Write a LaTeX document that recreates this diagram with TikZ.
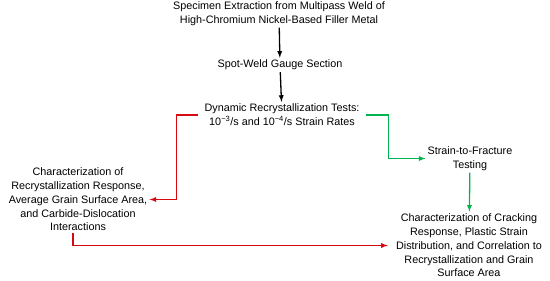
\documentclass[tikz,border=0pt]{standalone}
\usepackage{fontspec}
\setmainfont{Liberation Sans}
\usepackage{xcolor}
\usetikzlibrary{arrows, positioning}

\definecolor{redline}{RGB}{215,10,20}
\definecolor{greenline}{RGB}{0,180,80}

\begin{document}
\begin{tikzpicture}[
    x=1pt, y=-1pt,
    node distance=20pt,
    step_text/.style={align=center, inner sep=2pt, font=\fontsize{10.8}{13.8}\selectfont},
    arrow/.style={line width=1.3pt,->,>=latex},
    redarrow/.style={arrow, draw=redline},
    greenarrow/.style={arrow, draw=greenline}
]
\useasboundingbox (0,0) rectangle (550,281);

% Nodes
\node [step_text] (specimen) at (279,13.5) {Specimen Extraction from Multipass Weld of\\High-Chromium Nickel-Based Filler Metal};
\node [step_text] (gauge) at (280,65) {Spot-Weld Gauge Section};
\node [step_text] (recryst) at (282,115) {Dynamic Recrystallization Tests:\\10\textsuperscript{−3}/s and 10\textsuperscript{−4}/s Strain Rates};
\node [step_text] (charrecryst) at (78,199.5) {Characterization of\\Recrystallization Response,\\Average Grain Surface Area,\\and Carbide-Dislocation\\Interactions};
\node [step_text] (fracture) at (470,158.5) {Strain-to-Fracture\\Testing};
\node [step_text] (charcrack) at (469,245.5) {Characterization of Cracking\\Response, Plastic Strain\\Distribution, and Correlation to\\Recrystallization and Grain\\Surface Area};

% Arrows
\draw [arrow] (specimen) -- (gauge);
\draw [arrow] (gauge) -- (recryst);
\draw [redarrow] ([xshift=-4pt]recryst.west) -- ++(-22,0) |- (charrecryst.east);
\draw [greenarrow] ([xshift=4pt]recryst.east) -- ++(23,0) |- (fracture.west);
\draw [greenarrow] (fracture) -- (charcrack);
\draw [redarrow, shorten >=6pt] ([xshift=-5pt]charrecryst.south) |- (charcrack.west);

\end{tikzpicture}
\end{document}
